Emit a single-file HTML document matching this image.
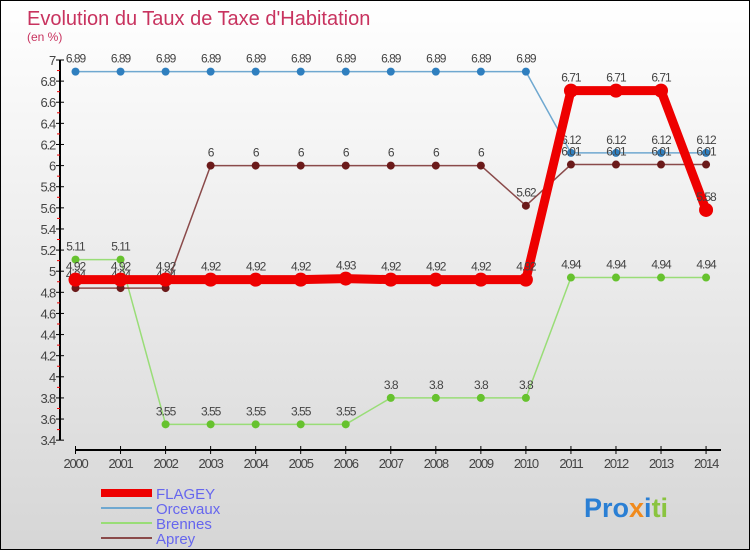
<!DOCTYPE html>
<html><head><meta charset="utf-8"><style>
html,body{margin:0;padding:0}
body{width:750px;height:550px;overflow:hidden;font-family:"Liberation Sans",sans-serif}
#wrap{position:relative;width:748px;height:548px;border:1px solid #000;background:linear-gradient(#ffffff,#d6d6d6)}
</style></head><body>
<div id="wrap">
<svg id="chart" width="748" height="548" style="position:absolute;left:0;top:0">
<text x="26" y="24" font-size="20" fill="#c8335f">Evolution du Taux de Taxe d'Habitation</text>
<text x="26" y="40" font-size="12" fill="#c8335f">(en %)</text>
<g id="axes"></g>
<g id="series"></g>
<g id="legend"></g>
<text x="583" y="516" font-size="27" font-weight="bold"><tspan fill="#2a7fd4">Pro</tspan><tspan fill="#f08a1c">x</tspan><tspan fill="#2a7fd4">i</tspan><tspan fill="#8ac43f">ti</tspan></text>
</svg></div>
<script>
const years=[2000,2001,2002,2003,2004,2005,2006,2007,2008,2009,2010,2011,2012,2013,2014];
const yTicks=[3.4,3.6,3.8,4,4.2,4.4,4.6,4.8,5,5.2,5.4,5.6,5.8,6,6.2,6.4,6.6,6.8,7];
const flagey=[4.92,4.92,4.92,4.92,4.92,4.92,4.93,4.92,4.92,4.92,4.92,6.71,6.71,6.71,5.58];
const orcevaux=[6.89,6.89,6.89,6.89,6.89,6.89,6.89,6.89,6.89,6.89,6.89,6.12,6.12,6.12,6.12];
const brennes=[5.11,5.11,3.55,3.55,3.55,3.55,3.55,3.8,3.8,3.8,3.8,4.94,4.94,4.94,4.94];
const aprey=[4.84,4.84,4.84,6,6,6,6,6,6,6,5.62,6.01,6.01,6.01,6.01];
const NS='http://www.w3.org/2000/svg';
function X(i){return 74.5+i*45.04;}
function Y(v){return 59+(7-v)*105.6;}
function mk(t,a,p){const e=document.createElementNS(NS,t);for(const k in a)e.setAttribute(k,a[k]);p.appendChild(e);return e;}
const ax=document.getElementById('axes');
let yl=mk('line',{x1:59,y1:Y(7),x2:59,y2:Y(3.4),stroke:'#000','stroke-width':2},ax);


yTicks.forEach(v=>{
 mk('line',{x1:55,y1:Y(v),x2:63,y2:Y(v),stroke:'#000'},ax);
 if(v<7)mk('line',{x1:56,y1:Y(v+0.1),x2:59,y2:Y(v+0.1),stroke:'#e00'},ax);
 const t=mk('text',{x:54,y:Y(v)+5,'text-anchor':'end','font-size':13,fill:'#444','letter-spacing':'-1.2'},ax);
 t.textContent=String(v);
 
 
});
let xl=mk('line',{x1:X(0),y1:449,x2:720,y2:449,stroke:'#000','stroke-width':2},ax);


years.forEach((y,i)=>{
 mk('line',{x1:X(i),y1:445,x2:X(i),y2:453,stroke:'#000'},ax);
 const t=mk('text',{x:X(i),y:467,'text-anchor':'middle','font-size':13,fill:'#444','letter-spacing':'-1.2'},ax);
 t.textContent=y;
 
 
});
const sg=document.getElementById('series');
function draw(data,color,w,r,dot,name){
 const g=mk('g',{},sg);
 
 
 mk('polyline',{points:data.map((v,i)=>X(i)+','+Y(v)).join(' '),fill:'none',stroke:color,'stroke-width':w,'stroke-linejoin':'round'},g);
 data.forEach((v,i)=>{
  const c=mk('circle',{cx:X(i),cy:Y(v),r:r,fill:dot},g);
  
  
  const t=mk('text',{x:X(i),y:Y(v)-9,'text-anchor':'middle','font-size':12,fill:'#444','letter-spacing':'-1'},g);
  t.textContent=String(v);
  
  
 });
}
draw(orcevaux,'#6fa8d0',1.5,4,'#2f7fbf','orcevaux');
draw(brennes,'#99dd77',1.5,4,'#66c22e','brennes');
draw(aprey,'#8a4a4a',1.5,4,'#6b1a1a','aprey');
draw(flagey,'#ee0000',9,7,'#ee0000','flagey');
const lg=document.getElementById('legend');
[['FLAGEY','#ee0000',8],['Orcevaux','#6fa8d0',2],['Brennes','#99dd77',2],['Aprey','#8a4a4a',2]].forEach((d,i)=>{
 const y=492+i*15;
 mk('line',{x1:100,y1:y,x2:151,y2:y,stroke:d[1],'stroke-width':d[2]},lg);
 const t=mk('text',{x:155,y:y+6,'font-size':15,fill:'#6666ee'},lg);
 t.textContent=d[0];
 
 
});
</script>
</body></html>
